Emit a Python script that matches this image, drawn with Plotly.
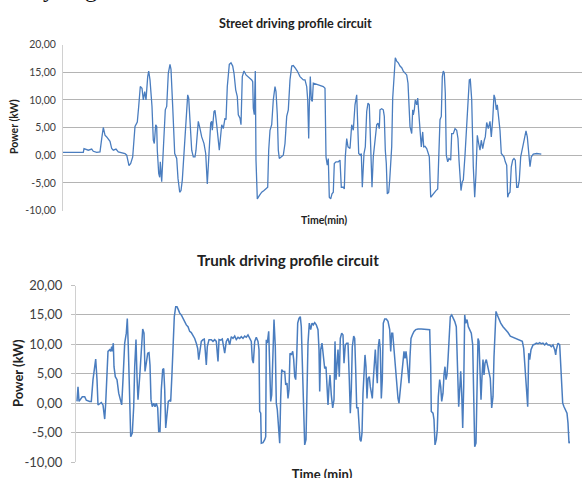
import plotly.graph_objects as go

# ---------------- Street driving profile (top) ----------------
street_time = [0, 10.3, 20.3, 21, 25.3, 28.7, 30.3, 33.7, 37, 38.7, 40.3, 42, 43.7, 47, 48.7, 50.3, 53, 55.3,
               58.7, 62, 63.7, 65, 66, 67.7, 69.7, 72, 74.3, 75.7, 77.3, 79, 80.3, 81.7, 83, 84.7, 85.7, 87, 89,
               90.3, 91.3, 92.7, 93.7, 94.3, 95.7, 96.7, 97.3, 98.7, 100.3, 102.3, 103.7, 105.3, 107, 108, 109.7,
               111.7, 113.7, 115, 116.7, 118, 119.3, 121, 122.7, 124.7, 125.7, 127, 128.7, 130.3, 132, 133, 135.3,
               137, 138.7, 141, 142.7, 144.3, 145.7, 147.7, 148.7, 149.3, 151, 152, 153.7, 155.3, 156.3,
               158.7, 160.3, 162, 163, 164.3, 166.3, 168, 169.7, 171, 172.7, 174.3, 175.3, 177, 178, 179.3, 181,
               183, 185.3, 187, 188.7, 189.7, 190.3, 191.3, 192.3, 193, 194.3, 196.3, 198.7, 201, 203, 204.7,
               205.7, 207, 208.7, 210.3, 212, 213, 214.3, 215.3, 216.3, 218.7, 220.3, 222, 223.7, 225.3, 227,
               228.7, 230.3, 232, 234.3, 237, 238.7, 240.3, 242, 243.7, 244.7, 245.7, 246.3, 247.3, 248.3, 249.3,
               250.3, 253.7, 257, 260.3, 262, 263, 264.3, 265.3, 266.3, 267.7, 269, 270.3, 271.3, 273, 275.3, 277,
               278.3, 280.3, 281.3, 282.3, 283.7, 285, 287, 288.7, 290.3, 292, 293.7, 294.7, 295.7, 297.3, 298.3,
               299.3, 301, 302.3, 303.7, 305, 306.3, 307.7, 309, 310.3, 312, 313.7, 315, 316.3,
               317, 318.7, 320.3, 321.3, 322.3, 323.3, 324.3, 325.7, 326.7, 328, 328.7, 329.7, 331, 332.3, 333.7,
               335.3, 337, 338.7, 340.3, 342, 343.7, 345, 346.3, 347, 348.7, 349.7, 350.3, 351.3, 352.3, 353.7,
               354.7, 355.7, 357, 358.3, 359.7, 360.7, 362, 363.7, 365.3, 366.3, 367.7, 369, 371, 373, 374.7,
               375.7, 377, 378.3, 379.3, 380.3, 381.3, 382.3, 383.3, 384.7, 386, 387.7, 388.7, 390.3, 392, 393.7,
               395, 396, 397, 398, 399.3, 400.3, 402, 404.3, 406.3, 407.3, 408.7, 410.3, 411.7, 413, 414.3, 415.7,
               417, 418.3, 419.7, 421.3, 422.3, 423.7, 425.3, 427, 428.3, 429.7, 431, 432, 433.3, 434.3, 435.7,
               437, 438.3, 439.7, 441, 442.3, 443.7, 444.7, 445.7, 447, 448.3, 449.7, 451, 452.3, 453.7, 455,
               456.3, 457.7, 459.7, 461.7, 463, 464.3, 465.7, 467, 468.3, 470.3, 473.7, 477, 478.3]
street_power = [0.5, 0.45, 0.5, 1.2, 0.9, 1.1, 0.7, 0.5, 0.6, 3.0, 5.0, 3.6, 3.3, 2.5, 1.2, 0.9, 1.1, 0.6,
                0.5, 0.3, 0.0, -1.5, -1.9, -1.5, -0.3, 5.2, 6.0, 8.8, 12.4, 12.1, 10.0, 11.5, 10.0, 14.2, 15.2,
                13.6, 8.8, 2.7, 2.1, 5.5, 5.2, 0.9, -3.3, -4.0, -1.2, -4.8, 1.5, 8.2, 8.8, 14.8, 16.4, 15.5, 8.8,
                0.3, -0.6, -4.2, -6.7, -6.4, -4.5, 0.9, 6.4, 10.9, 10.3, 5.8, 0.9, -0.3, -0.3, 0.9, 6.1,
                4.8, 3.3, 2.1, 0.3, -5.2, -0.1, 5.8, 6.1, 4.5, 7.9, 8.1, 5.5, 2.7, 0.9,
                5.5, 4.8, 6.7, 6.4, 12.4, 16.4, 16.7, 16.1, 14.8, 11.8, 10.6, 7.3, 6.7, 5.5, 14.2, 15.2,
                14.5, 14.2, 13.9, 13.6, 13.3, 8.5, 7.3, 15.2, -0.9, -7.9, -7.3, -6.7, -6.4, -6.1, -5.8,
                0.9, 4.5, 5.5, 10.0, 12.4, 11.5, 7.3, 0.9, -0.6, -0.3, 0.0, 2.1, 7.0, 8.2, 13.6,
                16.1, 16.2, 15.8, 15.2, 14.2, 13.8, 13.6, 13.6, 12.4, 10.0, 3.0, 8.8, 14.2, 10.0, 9.7,
                13.0, 12.8, 12.7, 12.4, 12.1, -0.3, -1.8, -0.6, -7.6, -7.9, -7.0, -6.7, -1.5, -1.2, -1.2, -0.9,
                -5.8, -5.8, -6.1, -0.3, 3.0, 1.5, 1.2, 5.5, 4.5, 9.1, 10.9, 7.0, 0.3, 0.0, 0.3,
                -5.8, 0.3, 1.5, 7.9, 9.4, 9.1, 1.5, -5.8, -0.3, 3.3, 5.5, 5.8, 4.8,
                8.2, 8.4, 8.2, 7.0, 0.9, -1.5, -7.0, -6.7, -4.5, 0.9, 1.5, 10.3, 14.8, 17.6, 17.0,
                16.7, 16.1, 15.8, 15.2, 14.8, 14.5, 13.0, 8.2, 5.2, 3.9, 8.2, 7.3, 8.2, 10.0, 9.1,
                10.3, 7.9, 4.5, 1.5, 4.2, 1.5, 1.6, 1.2, 0.3, -0.3, -7.6, -7.3, -6.7, -6.4, -6.1,
                0.9, 6.4, 7.0, 14.2, 15.2, 14.8, 11.2, 0.0, -1.2, -0.6, -0.9, 3.9, 3.9, 4.8, 4.5,
                3.0, -0.9, -4.5, -6.4, -4.8, -4.5, 0.0, 8.8, 13.6, 13.7, 10.0, -2.1, -7.6, -3.3, 3.6, 2.1,
                0.9, 2.7, 1.2, 2.7, 3.3, 5.9, 4.8, 6.1, 3.3, 6.4, 10.9, 10.3, 8.2, 9.1, 6.4,
                4.5, 0.3, 0.0, -0.3, -1.2, -1.8, -7.6, -7.0, -6.7, -2.1, -0.9, -0.6, -0.9, -5.8, -5.8,
                -4.5, -0.3, 1.5, 3.0, 4.4, 3.3, 0.9, -2.1, -0.3, 0.2, 0.3, 0.3, 0.2]

# ---------------- Trunk driving profile (bottom) ----------------
trunk_time = [1, 2, 3, 4.3, 6.3, 8.7, 10.3, 13.7, 15.3, 17, 18.7, 19.7, 21, 22, 23.7, 25.3, 27, 28.7, 29.7,
              31, 32, 33.7, 34.7, 35.7, 36.3, 37.3, 38, 39.3, 41, 42.7, 44.3, 45.7, 47, 48.7, 50.3, 51.3, 52.3,
              53.7, 54.7, 56.3, 57.7, 58.7, 60, 61, 62, 63.7, 65.3, 66.7, 68, 69, 70.3, 71.7, 73, 74, 75, 76.3,
              77.7, 79, 80.3, 81.7, 82.7, 84, 85.3, 86.7, 87.7, 88.7, 89.7, 91, 92.3, 93.7, 94.7, 96, 97, 98.3,
              99.7, 101, 102.3, 103.7, 105.3, 107, 108.7, 110.3, 112, 113.7, 115.3, 117, 118.7, 120.3, 121.7,
              122.7, 123.7, 125.3, 127, 128.3, 129.3, 130.3, 131.3, 133, 135.3, 137, 138.7, 140.3, 142, 143,
              144.7, 146.3, 148.7, 150.3, 152, 153.7, 155.3, 157, 158.7, 160.3, 162,
              163.7, 165.3, 167, 168.7, 170.3, 172, 173.7, 175.3, 176.3, 177.3, 178.7, 180.3, 182, 183, 183.7,
              184.7, 185.3, 187, 188.7, 189.7, 190.3, 191.3, 192.7, 193.7, 194.7, 195.7, 197, 198, 199.3, 200.3,
              201.3, 202.7, 203.7, 204.7, 205.7, 207, 208.7, 209.7, 211, 212, 213, 214, 215.3, 216.7, 217.7,
              218.7, 219.7, 220.7, 221.7, 223, 224.3, 225.3, 226.7, 227.7, 228.7, 230, 231, 232, 233.3, 234.7,
              236, 237.3, 238.7, 240.3, 242, 243, 243.7, 244.7, 246, 247.3, 248.7, 250, 251, 252, 253, 254,
              255.3, 256.7, 258, 259, 260, 261, 262, 263.3, 264.3, 265.7, 267, 268, 268.7, 269.3, 270.7, 272,
              273.3, 274.3, 275.3, 276.3, 277.7, 278.7, 279.7, 280.7, 282, 283, 284, 285, 286, 287, 288, 289,
              290, 291, 292, 293.3, 294.3, 295.3, 296.3, 297.3, 298.3, 299.3, 300.3, 301.3, 302.3, 303.3, 304.3,
              305.3, 306.3, 307.3, 308.7, 310.3, 312, 313.7, 314.7, 315.7, 316.7, 317.7, 318.7, 319.7, 320.7,
              322, 323, 324, 325.3, 326.7,
              328, 329, 330, 331, 332, 333, 334, 335, 336.3, 338, 339.7, 342, 345.3, 348.7, 352, 353.7, 354.7,
              355.3, 357, 358, 359, 360.3, 361.3, 362.3, 363.7, 364.7, 365.7, 367, 368, 369, 370, 371, 372, 373,
              374.3, 375.7, 377, 378.7, 380.3, 381.3, 382.7, 383.7, 384.7, 385.7, 386.7, 387.7, 388.7, 389.7,
              391, 392.3, 393.7, 395.3, 396.7, 397.7, 398.7, 400, 401, 402, 403, 404, 405, 406, 407, 408, 409,
              410.3, 411.7, 413, 414.3, 415.7, 417, 418, 419, 420, 421.3, 423, 424.7, 427, 429.7, 432, 434.3,
              437, 440.3, 443.7, 446.3, 447.7, 449, 450.3, 451.7, 452.7, 453.7, 455, 457, 458.7, 460.3, 462,
              463.7, 465.3, 467, 468.7, 470.3, 472, 473.7, 475.3, 477, 478.7, 479.7, 480.3, 482, 483.7, 484.7,
              485.7, 486.7, 488, 489.3, 491, 492, 493, 494]
trunk_power = [0.3, 2.8, 0.3, 0.6, 1.1, 1.1, 0.5, 0.3, 0.3, 4.0, 6.8, 7.5, 4.0, -0.3, -0.1, 0.1, -0.3, -2.7, 0.0,
               5.1, 8.8, 9.1, 8.8, 9.6, 8.8, 10.2, 6.2, 4.5, 4.0, 1.7, 0.3, -0.3, 4.0, 10.2, 11.9, 14.4, 9.6,
               -1.7, -5.7, -5.1, -0.6, 6.2, 10.8, 4.5, 0.6, 4.5, 8.5, 12.6, 11.9, 5.4, 6.8, 8.5, 8.6, 6.5, 0.6, -0.6,
               0.0, -0.6, 0.0, -0.8, -4.8, -4.8, 2.3, 5.7, 5.9, 2.3, -4.2, -1.7, 0.3, 0.5, 0.3, 5.1, 10.8, 14.7,
               16.4, 16.4, 15.9, 15.3, 15.0, 14.4, 13.7, 13.3, 13.0, 12.2, 12.0, 11.6, 11.0, 10.2, 9.3,
               7.4, 8.8, 10.5, 10.8, 10.9, 8.8, 6.5, 9.6, 10.8, 10.8, 10.5, 10.8, 10.5, 7.1, 10.8,
               10.7, 10.9, 8.5, 10.5, 11.0, 9.9, 11.3, 11.0, 11.4, 10.8, 11.2,
               11.0, 11.3, 11.0, 11.4, 11.2, 11.6, 10.9, 10.5, 7.4, 6.8, 10.5, 11.2, 10.5, 9.1, -1.4,
               -1.7, -6.8, -6.7, -6.2, -5.7, 10.8, 10.2, 12.2, 6.2, 0.3, 1.4, 10.8, 14.2, 9.6, 0.0,
               -1.1, -4.0, -6.8, 1.1, 5.7, 5.4, 5.4, 3.1, 3.4, 0.8, 2.3, 8.5, 8.2, 8.8, 7.4,
               4.5, 4.0, 7.9, 13.6, 14.4, 14.7, 13.0, 4.0, -1.7, -7.1, -6.2, 1.1, 10.2, 13.6, 12.5,
               13.6, 13.3, 13.7, 13.3, 12.5, 9.1, 2.0, 9.1, 10.2, 7.9, 5.9, 6.2, 2.8, -0.3, 2.8, 4.8,
               1.4, -0.8, 0.6, 10.5, 4.0, 6.8, 9.1, 4.5, 11.0, 11.9, 11.6, 6.8, 7.9, 9.9, 10.2, 10.2,
               4.0, -1.7, 2.3, 9.6, 11.4, 11.0, 5.7, -0.8, -0.8, -2.8, -6.2, -6.5, -5.1, 1.7, 5.1, 8.2,
               6.2, 0.8, 4.2, 4.5, 2.8, 1.7, 0.8, 4.0, 6.8, 9.1, 5.9, 3.4, 9.6, 10.9, 9.1,
               0.8, 4.0, 13.6, 14.3, 14.3, 13.9, 12.5, 8.8, 11.9, 11.9, 9.6, 6.8, 4.5, 2.8,
               0.8, 0.0, 1.7, 4.0, 5.9,
               8.8, 7.6, 8.8, 7.4, 5.1, 3.4, 7.9, 11.0, 11.6, 12.2, 12.5, 12.6, 12.6, 12.6, 12.6, 12.5, 6.2,
               -1.4, -1.7, -2.8, -7.1, -6.2, -4.5, 1.1, 4.0, 2.8, 0.3, 1.7, 4.8, 6.2, 4.0, 4.8, 7.4, 10.5,
               14.7, 15.0, 14.6, 13.9, 13.0, 6.2, -0.6, 2.3, 5.4, 1.7, -4.2, 2.8, 15.0, 13.6,
               14.2, 13.0, 12.5, 11.9, 9.9, 2.3, -7.4, -6.8, 1.1, 11.0, 10.5, 4.0, 0.6, 4.5, 7.4, 4.8, 6.8,
               7.4, 6.2, 4.8, 4.2, -0.8, 1.1, 7.9, 12.5, 15.6, 15.0, 14.2, 13.6, 13.0, 12.5, 12.0, 11.4,
               11.2, 10.9, 10.7, 10.5, 9.3, 6.2, 4.0, -0.6, 8.5, 7.4, 9.1, 9.9, 10.0, 10.2, 10.1,
               10.3, 10.1, 10.2, 9.9, 10.2, 9.9, 9.9, 9.6, 9.9, 9.1, 8.2, 9.1, 10.2, 9.9, 6.8,
               4.0, 0.0, -0.6, -1.1, -1.7, -3.4, -6.8, -6.5]

y_tick_vals = [-10, -5, 0, 5, 10, 15, 20]
y_tick_text = ["-10,00", "-5,00", "0,00", "5,00", "10,00", "15,00", "20,00"]

top_title = "Street driving profile circuit"
bottom_title = "Trunk driving profile circuit"
top_xlabel = "Time(min)"
bottom_xlabel = "Time (min)"
ylabel = "Power (kW)"
fragment_text = ["y", "g"]   # cropped document text visible at the very top

W, H = 582, 478
LINE = "#4a7dbf"
GRID = "#b4b4b4"
FONT = "Lato, 'Liberation Sans', sans-serif"
TXT = "#404040"
DARK = "#222222"

fig = go.Figure()
fig.add_trace(go.Scatter(x=street_time, y=street_power, mode="lines",
                         line=dict(color=LINE, width=1.3), xaxis="x", yaxis="y",
                         showlegend=False, hoverinfo="skip"))
fig.add_trace(go.Scatter(x=trunk_time, y=trunk_power, mode="lines",
                         line=dict(color=LINE, width=1.5), xaxis="x2", yaxis="y2",
                         showlegend=False, hoverinfo="skip"))

# full-page overlay (pixel coordinates) used only to clip texts cut at the page edges
fig.add_trace(go.Scatter(x=[49, 91], y=[-9.5, -9.5], mode="text", text=fragment_text,
                         textfont=dict(family="Liberation Serif", size=24, color="#111111"),
                         xaxis="x3", yaxis="y3", cliponaxis=True, showlegend=False, hoverinfo="skip"))
fig.add_trace(go.Scatter(x=[322], y=[475.5], mode="text", text=[f"<b>{bottom_xlabel}</b>"],
                         textfont=dict(family=FONT, size=13, color=DARK),
                         xaxis="x3", yaxis="y3", cliponaxis=True, showlegend=False, hoverinfo="skip"))


def px_x(p):
    return p / W


def px_y(p):
    return 1 - p / H


hidden = dict(showticklabels=False, showgrid=False, zeroline=False, showline=False, ticks="",
              automargin=False)

fig.update_layout(
    template="none",
    width=W, height=H, autosize=False, showlegend=False,
    margin=dict(l=0, r=0, t=0, b=0, pad=0, autoexpand=False),
    paper_bgcolor="white", plot_bgcolor="rgba(0,0,0,0)",
    font=dict(family=FONT, color=TXT),
    xaxis=dict(domain=[px_x(63), 1.0], range=[0, 519], anchor="y", **hidden),
    yaxis=dict(domain=[px_y(210.5), px_y(44.5)], range=[-10, 20], tickvals=y_tick_vals,
               ticktext=y_tick_text, showgrid=True, gridcolor=GRID, gridwidth=1, zeroline=False,
               showline=True, linecolor="#d0d0d0", linewidth=1, ticks="", automargin=False,
               tickfont=dict(size=10.5, color=TXT), ticklabelstandoff=4, anchor="x"),
    xaxis2=dict(domain=[px_x(76), px_x(570)], range=[0, 494], anchor="y2", **hidden),
    yaxis2=dict(domain=[px_y(462), px_y(285.5)], range=[-10, 20], tickvals=y_tick_vals,
                ticktext=y_tick_text, showgrid=True, gridcolor=GRID, gridwidth=1, zeroline=False,
                showline=True, linecolor="#d0d0d0", linewidth=1, ticks="outside", ticklen=4,
                tickcolor="#c0c0c0", tickfont=dict(size=13, color=TXT), ticklabelstandoff=6,
                automargin=False, anchor="x2"),
    xaxis3=dict(domain=[0, 1], range=[0, W], anchor="y3", fixedrange=True, **hidden),
    yaxis3=dict(domain=[0, 1], range=[H, 0], anchor="x3", fixedrange=True, **hidden),
)

ann = [
    dict(text=f"<b>{top_title}</b>", x=px_x(295), y=px_y(23), font=dict(size=12.6, color=DARK)),
    dict(text=f"<b>{top_xlabel}</b>", x=px_x(324), y=px_y(220), font=dict(size=10.5, color=DARK)),
    dict(text=f"<b>{ylabel}</b>", x=px_x(14), y=px_y(127), textangle=-90, font=dict(size=10.5, color=DARK)),
    dict(text=f"<b>{bottom_title}</b>", x=px_x(288), y=px_y(260), font=dict(size=15.2, color=DARK)),
    dict(text=f"<b>{ylabel}</b>", x=px_x(18), y=px_y(373), textangle=-90, font=dict(size=13, color=DARK)),
]
for a in ann:
    fig.add_annotation(xref="paper", yref="paper", showarrow=False, xanchor="center", yanchor="middle", **a)

# remove the browser's default 8px body margin so the 582x478 figure fills the window exactly
fig.write_html("out.html", config={"displayModeBar": False},
               post_script="document.body.style.margin='0';document.body.style.overflow='hidden';")
